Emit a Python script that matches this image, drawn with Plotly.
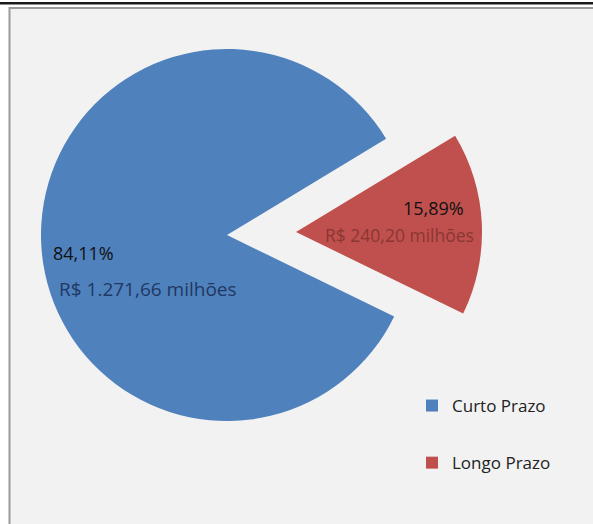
import plotly.graph_objects as go

# ---- data ----
categories = ["Curto Prazo", "Longo Prazo"]
values = [1271.66, 240.20]
percent_labels = ["84,11%", "15,89%"]
value_labels = ["R$ 1.271,66 milhões", "R$ 240,20 milhões"]

# ---- styling ----
W, H = 593, 524
colors = ["#4f81bd", "#c0504d"]
value_text_colors = ["#1f3864", "#8a3634"]
value_font_sizes = [19, 17.5]
FONT = "'Open Sans', 'Noto Sans', sans-serif"


def px_x(p):
    return p / W


def px_y(p):
    return 1 - p / H


R = 186
centers = [(227, 235), (296, 232)]  # second slice exploded

fig = go.Figure()
for i in range(len(categories)):
    cx, cy = centers[i]
    cols = ["rgba(0,0,0,0)"] * len(categories)
    cols[i] = colors[i]
    fig.add_trace(go.Pie(
        labels=categories,
        values=values,
        sort=False,
        direction="clockwise",
        rotation=116,
        marker=dict(colors=cols, line=dict(width=0)),
        textinfo="none",
        hoverinfo="skip",
        showlegend=False,
        domain=dict(x=[px_x(cx - R), px_x(cx + R)],
                    y=[px_y(cy + R), px_y(cy - R)]),
    ))

# legend via placeholder traces
for i, cat in enumerate(categories):
    fig.add_trace(go.Scatter(
        x=[None], y=[None], mode="markers", name=cat,
        legendgroup=cat,
        marker=dict(symbol="square", size=12, color=colors[i]),
    ))

# data labels
label_pos = [((51, 253), (57, 289)), ((401, 208), (323, 235))]
for i in range(len(categories)):
    (px1, py1), (px2, py2) = label_pos[i]
    fig.add_annotation(x=px_x(px1), y=px_y(py1), xref="paper", yref="paper",
                       text=percent_labels[i], showarrow=False,
                       xanchor="left", yanchor="middle",
                       font=dict(family=FONT, size=18, color="#111111"))
    fig.add_annotation(x=px_x(px2), y=px_y(py2), xref="paper", yref="paper",
                       text=value_labels[i], showarrow=False,
                       xanchor="left", yanchor="middle",
                       font=dict(family=FONT, size=value_font_sizes[i],
                                 color=value_text_colors[i]))

# frame (chart area border) and the window rule above it
fig.add_shape(type="rect", xref="paper", yref="paper",
              x0=px_x(9.5), x1=px_x(W + 5), y0=px_y(H + 5), y1=px_y(8),
              fillcolor="#f2f2f2", line=dict(color="#9a9a9a", width=2),
              layer="below")
fig.add_shape(type="rect", xref="paper", yref="paper",
              x0=0, x1=1, y0=px_y(4.5), y1=px_y(2),
              fillcolor="#1a1a1a", line=dict(width=0), layer="above")

fig.update_layout(
    width=W, height=H,
    margin=dict(l=0, r=0, t=0, b=0),
    paper_bgcolor="white",
    plot_bgcolor="rgba(0,0,0,0)",
    xaxis=dict(visible=False),
    yaxis=dict(visible=False),
    showlegend=True,
    legend=dict(x=px_x(412), y=px_y(388), xanchor="left", yanchor="top",
                bgcolor="rgba(0,0,0,0)",
                font=dict(family=FONT, size=17, color="#222222"),
                tracegroupgap=32, itemclick=False, itemdoubleclick=False),
    font=dict(family=FONT),
)

fig.write_html("out.html",
               config={"displayModeBar": False},
               post_script="document.body.style.margin='0';document.body.style.overflow='hidden';")
